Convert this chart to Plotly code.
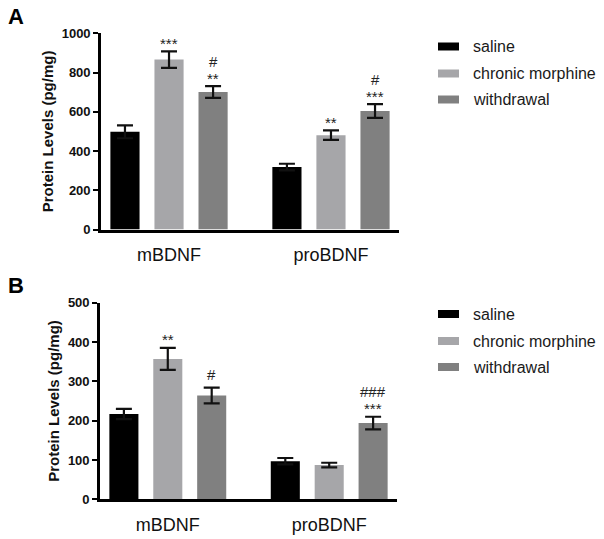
import plotly.graph_objects as go

# data
categories = ["mBDNF", "proBDNF"]
groups = ["saline", "chronic morphine", "withdrawal"]
colors = ["#000000", "#a6a6a9", "#808080"]

a_saline = [498, 318]
a_saline_err = [33, 17]
a_chronic = [866, 481]
a_chronic_err = [42, 24]
a_withdrawal = [701, 604]
a_withdrawal_err = [30, 35]
a_stars = [["", ""], ["***", "**"], ["**", "***"]]
a_hash = [["", ""], ["", ""], ["#", "#"]]

b_saline = [217, 97]
b_saline_err = [13, 8]
b_chronic = [357, 87]
b_chronic_err = [28, 6]
b_withdrawal = [264, 194]
b_withdrawal_err = [20, 16]
b_stars = [["", ""], ["**", ""], ["", "***"]]
b_hash = [["", ""], ["", ""], ["#", "###"]]

W, H = 604, 539
FONT = "Arial, Liberation Sans, sans-serif"
offsets = [-0.272, 0.0, 0.272]
bar_w = 0.18

fig = go.Figure()


def px_x(p):
    return p / W


def px_y(p):
    return 1 - p / H


def add_panel(vals, errs, stars, hashes, xa, ya):
    for i, g in enumerate(groups):
        xs = [k + offsets[i] for k in range(len(categories))]
        fig.add_trace(go.Bar(
            x=xs, y=vals[i], width=bar_w, name=g,
            marker=dict(color=colors[i], line=dict(width=0)),
            error_y=dict(type="data", array=errs[i], color="#111111",
                         thickness=2.2, width=8),
            xaxis=xa, yaxis=ya, showlegend=False,
        ))
        for k in range(len(categories)):
            top = vals[i][k] + errs[i][k]
            s = stars[i][k]
            h = hashes[i][k]
            if s:
                fig.add_annotation(x=xs[k], y=top, xref=xa, yref=ya, text=s,
                                   showarrow=False, yanchor="middle", yshift=8,
                                   font=dict(family=FONT, size=15, color="#222"))
            if h:
                fig.add_annotation(x=xs[k], y=top, xref=xa, yref=ya, text=h,
                                   showarrow=False, yanchor="middle",
                                   yshift=25 if s else 13,
                                   font=dict(family=FONT, size=15, color="#222"))


add_panel([a_saline, a_chronic, a_withdrawal],
          [a_saline_err, a_chronic_err, a_withdrawal_err], a_stars, a_hash, "x", "y")
add_panel([b_saline, b_chronic, b_withdrawal],
          [b_saline_err, b_chronic_err, b_withdrawal_err], b_stars, b_hash, "x2", "y2")

xcommon = dict(range=[-0.42, 1.42], tickvals=[0, 1], ticktext=categories,
               showline=True, linecolor="black", linewidth=2.6, ticks="",
               showgrid=False, zeroline=False, ticklabelstandoff=7, automargin=False,
               tickfont=dict(family=FONT, size=18, color="#111"))
ycommon = dict(showline=True, linecolor="black", linewidth=2.6, ticks="outside",
               ticklen=5, tickwidth=2.4, tickcolor="black", showgrid=False,
               zeroline=False, automargin=False,
               tickfont=dict(family=FONT, size=13, color="#111", weight="bold"),
               title=dict(text="Protein Levels (pg/mg)", standoff=5,
                          font=dict(family=FONT, size=15, color="#111", weight="bold")))

fig.update_layout(
    width=W, height=H, margin=dict(l=0, r=0, t=0, b=0),
    plot_bgcolor="white", paper_bgcolor="white",
    xaxis=dict(xcommon, domain=[px_x(101), px_x(399)], anchor="y"),
    yaxis=dict(ycommon, domain=[px_y(229.5), px_y(33.3)], range=[0, 1000],
               tickvals=[0, 200, 400, 600, 800, 1000], anchor="x"),
    xaxis2=dict(xcommon, domain=[px_x(100), px_x(397)], anchor="y2"),
    yaxis2=dict(ycommon, domain=[px_y(499.3), px_y(302.7)], range=[0, 500],
                tickvals=[0, 100, 200, 300, 400, 500], anchor="x2"),
    showlegend=False,
)

# panel letters
for letter, ypix in [("A", 17), ("B", 285)]:
    fig.add_annotation(x=px_x(6), y=px_y(ypix), xref="paper", yref="paper",
                       text=f"<b>{letter}</b>", showarrow=False, xanchor="left",
                       yanchor="middle", font=dict(family=FONT, size=22, color="black"))

# legends
for rows in [[46.5, 73.5, 99.5], [314, 341, 367]]:
    for g, c, yc in zip(groups, colors, rows):
        fig.add_shape(type="rect", xref="paper", yref="paper",
                      x0=px_x(438), x1=px_x(459), y0=px_y(yc + 4), y1=px_y(yc - 4),
                      fillcolor=c, line=dict(width=0))
        fig.add_annotation(x=px_x(471), y=px_y(yc), xref="paper", yref="paper",
                           text=g, showarrow=False, xanchor="left", yanchor="middle",
                           font=dict(family=FONT, size=16, color="#1a1a1a"))

# page body has a default 8px margin; drop it so the figure fills the window
fig.write_html("out.html", config={"displayModeBar": False},
               post_script="document.body.style.margin='0';")
